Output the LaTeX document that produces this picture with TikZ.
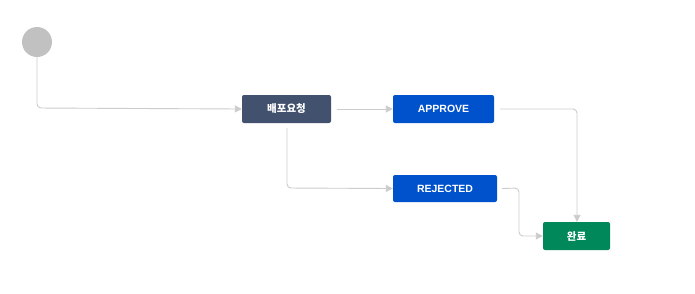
\documentclass[tikz,border=0pt]{standalone}
\usepackage{fontspec}
\setmainfont{Liberation Sans}
\newfontfamily\cjk{Noto Sans CJK KR}
\usetikzlibrary{arrows.meta}
\definecolor{navy}{HTML}{42526E}
\definecolor{jblue}{HTML}{0052CC}
\definecolor{jgreen}{HTML}{00875A}
\definecolor{lgray}{HTML}{CCCCCC}
\definecolor{cgray}{HTML}{C1C1C1}
\tikzset{
  state/.style={rectangle, rounded corners=2pt, text=white, font=\bfseries\fontsize{10.5}{12}\selectfont, inner sep=0pt, minimum height=28pt},
  kr/.style={font=\cjk\bfseries\fontsize{10.5}{12}\selectfont},
  conn/.style={draw=lgray, line width=0.9pt, rounded corners=4pt, -{Triangle[length=7pt,width=7pt,fill=lgray]}}
}
\begin{document}
\begin{tikzpicture}[x=1pt,y=-1pt]
\useasboundingbox[fill=white] (0,0) rectangle (695,293);
\node[circle, fill=cgray, minimum size=30pt, inner sep=0pt] (start) at (37,42) {};
\node[state, kr, fill=navy, minimum width=89pt] (req) at (286.5,109) {배포요청};
\node[state, fill=jblue, minimum width=101pt] (app) at (443.5,109) {APPROVE};
\node[state, fill=jblue, minimum width=104pt, minimum height=27pt] (rej) at (445,188.5) {REJECTED};
\node[state, kr, fill=jgreen, minimum width=67pt] (done) at (576.5,236) {완료};
\coordinate (c1) at (37,108);
\coordinate (c2) at (287,188);
\coordinate (c3) at (577,109);
\coordinate (c4) at (519,188);
\coordinate (c5) at (519,236);
\draw[conn] (start.south) -- (c1) -- (req.west);
\draw[conn] ([xshift=6pt]req.east) -- (app.west);
\draw[conn] ([yshift=-5pt]req.south -| c2) -- (c2) -- (rej.west);
\draw[conn] ([xshift=6pt]app.east) -- (c3) -- (done.north -| c3);
\draw[conn] ([xshift=5pt]rej.east) -- (c4) -- (c5) -- (done.west);
\end{tikzpicture}
\end{document}
